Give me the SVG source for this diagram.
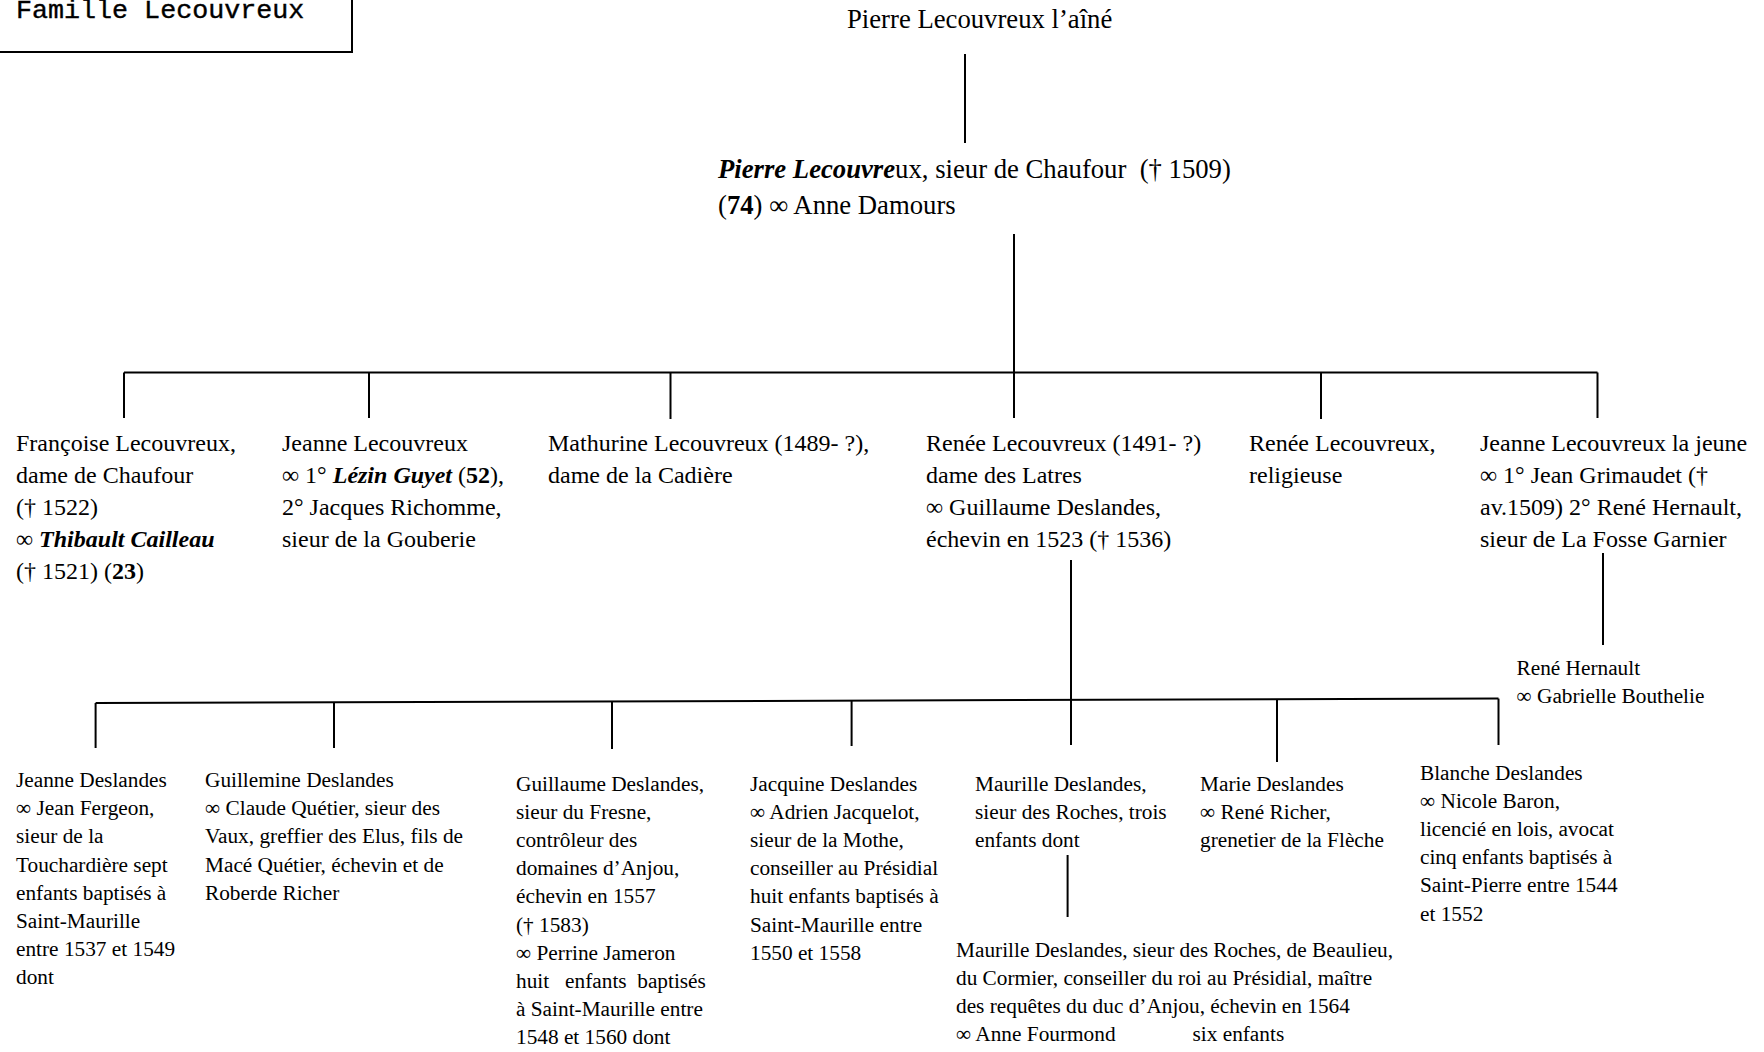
<svg xmlns="http://www.w3.org/2000/svg" width="1764" height="1052" viewBox="0 0 1764 1052">
<style>
text{font-family:"Liberation Serif","Times New Roman",serif;fill:#000}
.t0{font-size:26.7px}
.t1{font-size:24px}
.t2{font-size:21.3px}
.bi{font-weight:bold;font-style:italic}
.b{font-weight:bold}
.title{font-family:"Liberation Mono","Courier New",monospace;font-size:26.7px;stroke:#000;stroke-width:0.4}
.ln{stroke:#000;stroke-width:2;fill:none}
</style>
<rect width="1764" height="1052" fill="#fff"/>
<g id="title">
<rect x="-2" y="-2" width="354" height="54" fill="#fff" stroke="#000" stroke-width="2"/>
<text class="title" x="16" y="17.5">Famille Lecouvreux</text>
</g>
<g id="connectors" class="ln">
<line x1="965" y1="54" x2="965" y2="143"/>
<line x1="1014" y1="234" x2="1014" y2="418"/>
<line x1="124" y1="372.5" x2="1597.5" y2="372.5"/>
<line x1="124" y1="372.5" x2="124" y2="418"/>
<line x1="369" y1="372.5" x2="369" y2="418"/>
<line x1="670.5" y1="372.5" x2="670.5" y2="419"/>
<line x1="1321" y1="372.5" x2="1321" y2="419"/>
<line x1="1597.5" y1="372.5" x2="1597.5" y2="418"/>
<line x1="1603" y1="553" x2="1603" y2="645"/>
<line x1="1071" y1="560" x2="1071" y2="745"/>
<line x1="95.6" y1="703" x2="1498.5" y2="698.6"/>
<line x1="95.6" y1="703" x2="95.6" y2="748"/>
<line x1="334" y1="702.3" x2="334" y2="748"/>
<line x1="612" y1="701.4" x2="612" y2="749"/>
<line x1="851.6" y1="700.7" x2="851.6" y2="746"/>
<line x1="1277" y1="699.3" x2="1277" y2="762"/>
<line x1="1498.5" y1="698.6" x2="1498.5" y2="745"/>
<line x1="1067.6" y1="855" x2="1067.6" y2="917"/>
</g>
<g id="n-pierre-aine">
<text class="t0" x="847" y="28">Pierre Lecouvreux l’aîné</text>
</g>
<g id="n-pierre">
<text class="t0" x="718" y="178" xml:space="preserve"><tspan class="bi">Pierre Lecouvre</tspan>ux, sieur de Chaufour  († 1509)</text>
<text class="t0" x="718" y="214">(<tspan class="b">74</tspan>) ∞ Anne Damours</text>
</g>
<g id="n-francoise" class="t1">
<text x="16" y="451">Françoise Lecouvreux,</text>
<text x="16" y="483">dame de Chaufour</text>
<text x="16" y="515">(† 1522)</text>
<text x="16" y="547">∞ <tspan class="bi">Thibault Cailleau</tspan></text>
<text x="16" y="579">(† 1521) (<tspan class="b">23</tspan>)</text>
</g>
<g id="n-jeanne" class="t1">
<text x="282" y="451">Jeanne Lecouvreux</text>
<text x="282" y="483">∞ 1° <tspan class="bi">Lézin Guyet</tspan> (<tspan class="b">52</tspan>),</text>
<text x="282" y="515">2° Jacques Richomme,</text>
<text x="282" y="547">sieur de la Gouberie</text>
</g>
<g id="n-mathurine" class="t1">
<text x="548" y="451">Mathurine Lecouvreux (1489- ?),</text>
<text x="548" y="483">dame de la Cadière</text>
</g>
<g id="n-renee" class="t1">
<text x="926" y="451">Renée Lecouvreux (1491- ?)</text>
<text x="926" y="483">dame des Latres</text>
<text x="926" y="515">∞ Guillaume Deslandes,</text>
<text x="926" y="547">échevin en 1523 († 1536)</text>
</g>
<g id="n-renee-religieuse" class="t1">
<text x="1249" y="451">Renée Lecouvreux,</text>
<text x="1249" y="483">religieuse</text>
</g>
<g id="n-jeanne-jeune" class="t1">
<text x="1480" y="451">Jeanne Lecouvreux la jeune</text>
<text x="1480" y="483">∞ 1° Jean Grimaudet (†</text>
<text x="1480" y="515">av.1509) 2° René Hernault,</text>
<text x="1480" y="547">sieur de La Fosse Garnier</text>
</g>
<g id="n-rene-hernault" class="t2">
<text x="1516.5" y="675">René Hernault</text>
<text x="1516.5" y="703">∞ Gabrielle Bouthelie</text>
</g>
<g id="n-jeanne-deslandes" class="t2">
<text x="16" y="787">Jeanne Deslandes</text>
<text x="16" y="815.2">∞ Jean Fergeon,</text>
<text x="16" y="843.4">sieur de la</text>
<text x="16" y="871.6">Touchardière sept</text>
<text x="16" y="899.8">enfants baptisés à</text>
<text x="16" y="928">Saint-Maurille</text>
<text x="16" y="956.2">entre 1537 et 1549</text>
<text x="16" y="984.4">dont</text>
</g>
<g id="n-guillemine" class="t2">
<text x="205" y="787">Guillemine Deslandes</text>
<text x="205" y="815.2">∞ Claude Quétier, sieur des</text>
<text x="205" y="843.4">Vaux, greffier des Elus, fils de</text>
<text x="205" y="871.6">Macé Quétier, échevin et de</text>
<text x="205" y="899.8">Roberde Richer</text>
</g>
<g id="n-guillaume" class="t2">
<text x="516" y="791">Guillaume Deslandes,</text>
<text x="516" y="819.1">sieur du Fresne,</text>
<text x="516" y="847.2">contrôleur des</text>
<text x="516" y="875.3">domaines d’Anjou,</text>
<text x="516" y="903.4">échevin en 1557</text>
<text x="516" y="931.5">(† 1583)</text>
<text x="516" y="959.6">∞ Perrine Jameron</text>
<text x="516" y="987.7" xml:space="preserve">huit   enfants  baptisés</text>
<text x="516" y="1015.8">à Saint-Maurille entre</text>
<text x="516" y="1043.9">1548 et 1560 dont</text>
</g>
<g id="n-jacquine" class="t2">
<text x="750" y="791">Jacquine Deslandes</text>
<text x="750" y="819.1">∞ Adrien Jacquelot,</text>
<text x="750" y="847.2">sieur de la Mothe,</text>
<text x="750" y="875.3">conseiller au Présidial</text>
<text x="750" y="903.4">huit enfants baptisés à</text>
<text x="750" y="931.5">Saint-Maurille entre</text>
<text x="750" y="959.6">1550 et 1558</text>
</g>
<g id="n-maurille" class="t2">
<text x="975" y="791">Maurille Deslandes,</text>
<text x="975" y="819.1">sieur des Roches, trois</text>
<text x="975" y="847.2">enfants dont</text>
</g>
<g id="n-marie" class="t2">
<text x="1200" y="791">Marie Deslandes</text>
<text x="1200" y="819.1">∞ René Richer,</text>
<text x="1200" y="847.2">grenetier de la Flèche</text>
</g>
<g id="n-blanche" class="t2">
<text x="1420" y="780">Blanche Deslandes</text>
<text x="1420" y="808.1">∞ Nicole Baron,</text>
<text x="1420" y="836.2">licencié en lois, avocat</text>
<text x="1420" y="864.3">cinq enfants baptisés à</text>
<text x="1420" y="892.4">Saint-Pierre entre 1544</text>
<text x="1420" y="920.5">et 1552</text>
</g>
<g id="n-maurille-fils" class="t2">
<text x="956" y="957">Maurille Deslandes, sieur des Roches, de Beaulieu,</text>
<text x="956" y="985">du Cormier, conseiller du roi au Présidial, maître</text>
<text x="956" y="1013">des requêtes du duc d’Anjou, échevin en 1564</text>
<text x="956" y="1041">∞ Anne Fourmond</text>
<text x="1192.5" y="1041">six enfants</text>
</g>
</svg>
